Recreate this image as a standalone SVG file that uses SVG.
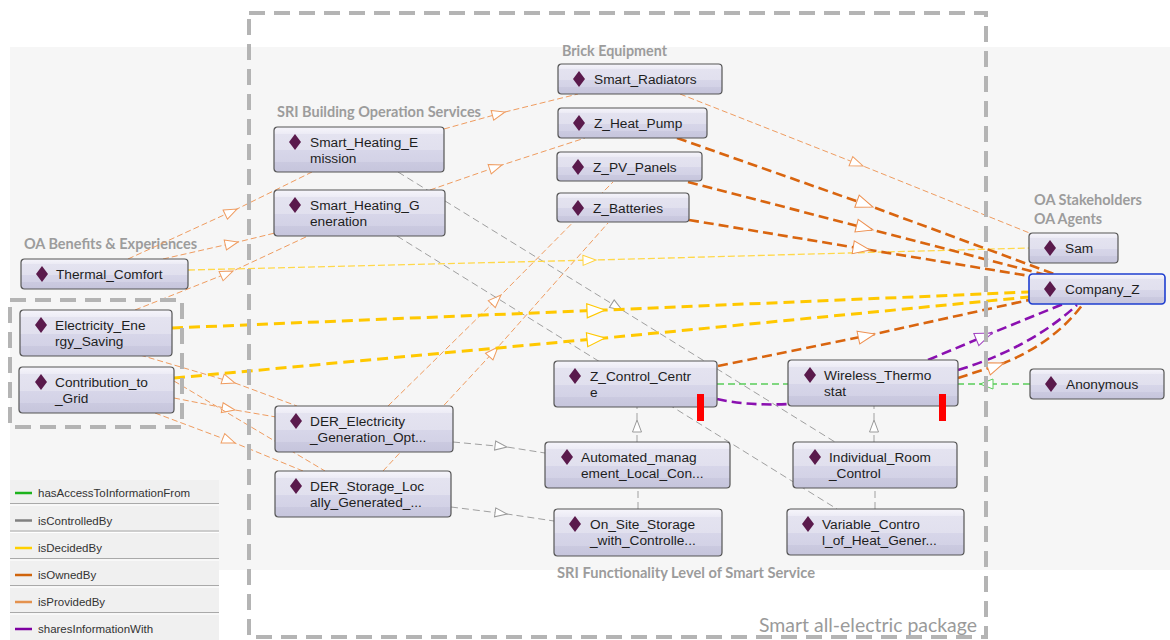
<svg xmlns="http://www.w3.org/2000/svg" width="1170" height="640" viewBox="0 0 1170 640">
  <defs>
    <linearGradient id="boxFill" x1="0" y1="0" x2="0" y2="1">
      <stop offset="0" stop-color="#f6f5fb"/>
      <stop offset="0.16" stop-color="#ecebf5"/>
      <stop offset="0.16" stop-color="#e4e3f0"/>
      <stop offset="0.52" stop-color="#e1e0ee"/>
      <stop offset="0.52" stop-color="#d7d6e9"/>
      <stop offset="0.78" stop-color="#d3d2e6"/>
      <stop offset="0.78" stop-color="#cbcae0"/>
      <stop offset="1" stop-color="#c6c5dc"/>
    </linearGradient>
    <!-- individual icon -->
    <path id="ind" d="M0,-8 L6,0 L0,8 L-6,0 Z"/>
    <!-- open triangular heads placed at the middle vertex of each connector -->
    <marker id="aProv" markerUnits="userSpaceOnUse" markerWidth="16" markerHeight="12" refX="13" refY="5" orient="auto" overflow="visible">
      <path d="M0,0 L13,5 L0,10 Z" fill="#fff" stroke="#ef9c60" stroke-width="1"/>
    </marker>
    <marker id="aOwn" markerUnits="userSpaceOnUse" markerWidth="20" markerHeight="14" refX="17" refY="6.5" orient="auto" overflow="visible">
      <path d="M0,0 L17,6.5 L0,13 Z" fill="#fff" stroke="#ee9050" stroke-width="1"/>
    </marker>
    <marker id="aDec" markerUnits="userSpaceOnUse" markerWidth="16" markerHeight="12" refX="13" refY="5" orient="auto" overflow="visible">
      <path d="M0,0 L13,5 L0,10 Z" fill="#fff" stroke="#ffd23c" stroke-width="1"/>
    </marker>
    <marker id="aDecT" markerUnits="userSpaceOnUse" markerWidth="20" markerHeight="16" refX="18" refY="7" orient="auto" overflow="visible">
      <path d="M0,0 L18,7 L0,14 Z" fill="#fff" stroke="#ffc800" stroke-width="1.2"/>
    </marker>
    <marker id="aCtl" markerUnits="userSpaceOnUse" markerWidth="16" markerHeight="12" refX="12" refY="4.5" orient="auto" overflow="visible">
      <path d="M0,0 L12,4.5 L0,9 Z" fill="#fff" stroke="#9a9a9a" stroke-width="1"/>
    </marker>
    <marker id="aShare" markerUnits="userSpaceOnUse" markerWidth="20" markerHeight="14" refX="17" refY="6.5" orient="auto" overflow="visible">
      <path d="M0,0 L17,6.5 L0,13 Z" fill="#fff" stroke="#a040c0" stroke-width="1"/>
    </marker>
    <marker id="aAcc" markerUnits="userSpaceOnUse" markerWidth="16" markerHeight="12" refX="13" refY="5" orient="auto" overflow="visible">
      <path d="M0,0 L13,5 L0,10 Z" fill="#fff" stroke="#5acd5a" stroke-width="1"/>
    </marker>
  </defs>
  <style>
    .box { fill: url(#boxFill); stroke: #555; stroke-width: 1.2; }
    .sel { stroke: #1f3fd0; stroke-width: 1.6; }
    .dia { fill: #5a1a4c; }
    .lbl { font-family: "Liberation Sans", Arial, sans-serif; font-size: 13.7px; fill: #1e1e1e; }
    .grp { font-family: Lato, "Open Sans", sans-serif; font-weight: bold; font-size: 15px; fill: #9c9c9c; }
    .pkg { font-family: Lato, "Open Sans", sans-serif; font-size: 20px; fill: #9a9a9a; }
    .leg { font-family: "Liberation Sans", Arial, sans-serif; font-size: 11.5px; fill: #333; }
    .c { fill: none; }
    .prov { stroke: #ef9c60; stroke-width: 1; stroke-dasharray: 6 3; }
    .own { stroke: #d9650f; stroke-width: 2.6; stroke-dasharray: 10 5; }
    .dec { stroke: #ffd84a; stroke-width: 1.3; stroke-dasharray: 7 3; }
    .decT { stroke: #ffc800; stroke-width: 3; stroke-dasharray: 11 6; }
    .ctl { stroke: #a0a0a0; stroke-width: 1; stroke-dasharray: 7 4; }
    .share { stroke: #8a10b0; stroke-width: 2.6; stroke-dasharray: 10 5; }
    .acc { stroke: #5acd5a; stroke-width: 1.3; stroke-dasharray: 7 4; }
    .red { fill: #ff0000; }
  </style>

  <!-- canvas -->
  <rect x="0" y="0" width="1170" height="640" fill="#ffffff"/>
  <rect x="10" y="47" width="1160" height="523" fill="#f6f6f6"/>

  <!-- legend -->
  <g id="legend">
    <rect x="10" y="480" width="209" height="160" fill="#f0f0f0"/>
    <g stroke="#a9a9a9" stroke-width="1">
      <line x1="10" y1="503.5" x2="219" y2="503.5"/>
      <line x1="10" y1="531" x2="219" y2="531"/>
      <line x1="10" y1="558.5" x2="219" y2="558.5"/>
      <line x1="10" y1="585.5" x2="219" y2="585.5"/>
      <line x1="10" y1="612.5" x2="219" y2="612.5"/>
    </g>
    <g stroke="#ffffff" stroke-width="1">
      <line x1="10" y1="505" x2="219" y2="505"/>
      <line x1="10" y1="532.5" x2="219" y2="532.5"/>
      <line x1="10" y1="560" x2="219" y2="560"/>
      <line x1="10" y1="587" x2="219" y2="587"/>
      <line x1="10" y1="614" x2="219" y2="614"/>
    </g>
    <g stroke-width="2.5">
      <line x1="15" y1="493" x2="32" y2="493" stroke="#1db31d"/>
      <line x1="15" y1="520.5" x2="32" y2="520.5" stroke="#808080"/>
      <line x1="15" y1="548" x2="32" y2="548" stroke="#ffd000"/>
      <line x1="15" y1="575" x2="32" y2="575" stroke="#d0640c"/>
      <line x1="15" y1="602" x2="32" y2="602" stroke="#e4924e"/>
      <line x1="15" y1="629" x2="32" y2="629" stroke="#7d00a0"/>
    </g>
    <text class="leg" x="38" y="497">hasAccessToInformationFrom</text>
    <text class="leg" x="38" y="524.5">isControlledBy</text>
    <text class="leg" x="38" y="552">isDecidedBy</text>
    <text class="leg" x="38" y="579">isOwnedBy</text>
    <text class="leg" x="38" y="606">isProvidedBy</text>
    <text class="leg" x="38" y="633">sharesInformationWith</text>
  </g>

  <!-- group captions -->
  <g id="captions">
    <text class="grp" x="562" y="56" textLength="105" lengthAdjust="spacingAndGlyphs">Brick Equipment</text>
    <text class="grp" x="277" y="117" textLength="204" lengthAdjust="spacingAndGlyphs">SRI Building Operation Services</text>
    <text class="grp" x="24" y="249" textLength="173" lengthAdjust="spacingAndGlyphs">OA Benefits &amp; Experiences</text>
    <text class="grp" x="1034" y="205" textLength="108" lengthAdjust="spacingAndGlyphs">OA Stakeholders</text>
    <text class="grp" x="1034" y="224" textLength="68" lengthAdjust="spacingAndGlyphs">OA Agents</text>
    <text class="grp" x="557" y="578" textLength="258" lengthAdjust="spacingAndGlyphs">SRI Functionality Level of Smart Service</text>
  </g>

  <!-- connectors -->
  <g id="connectors" class="c">
    <!-- isProvidedBy -->
    <polyline class="prov" marker-mid="url(#aProv)" points="444,129 505,112 578,94"/>
    <polyline class="prov" marker-mid="url(#aProv)" points="430,190 502,165 585,138"/>
    <polyline class="prov" marker-mid="url(#aProv)" points="680,94 863,166 1032,234"/>
    <polyline class="prov" marker-mid="url(#aProv)" points="128,259 237,209 312,172"/>
    <polyline class="prov" marker-mid="url(#aProv)" points="163,259 238,242 275,233"/>
    <polyline class="prov" marker-mid="url(#aProv)" points="135,310 233,271 308,236"/>
    <polyline class="prov" marker-mid="url(#aProv)" points="388,406 501,295 613,182"/>
    <polyline class="prov" marker-mid="url(#aProv)" points="383,471 498,347 608,223"/>
    <polyline class="prov" marker-mid="url(#aProv)" points="140,355 235,383 297,406"/>
    <polyline class="prov" marker-mid="url(#aProv)" points="174,398 235,410 276,417"/>
    <polyline class="prov" points="174,381 325,471"/>
    <polyline class="prov" marker-mid="url(#aProv)" points="155,413 235,443 303,471"/>

    <!-- isControlledBy -->
    <polyline class="ctl" marker-mid="url(#aCtl)" points="398,172 622,310 835,442"/>
    <polyline class="ctl" points="397,236 837,509"/>
    <polyline class="ctl" marker-mid="url(#aCtl)" points="637,442 637,420 637,407"/>
    <polyline class="ctl" points="638,509 638,488"/>
    <polyline class="ctl" marker-mid="url(#aCtl)" points="874,442 874,420 874,406"/>
    <polyline class="ctl" points="875,509 875,488"/>
    <polyline class="ctl" marker-mid="url(#aCtl)" points="453,442 507,447 545,453"/>
    <polyline class="ctl" marker-mid="url(#aCtl)" points="451,507 507,514 554,521"/>

    <!-- isDecidedBy -->
    <polyline class="dec" marker-mid="url(#aDec)" points="188,270 596,260 1029,248"/>
    <polyline class="decT" marker-mid="url(#aDecT)" points="172,328 605,310 1029,292"/>
    <polyline class="decT" marker-mid="url(#aDecT)" points="174,378 605,338 1029,297"/>

    <!-- isOwnedBy -->
    <polyline class="own" marker-mid="url(#aOwn)" points="677,138 873,207 1057,275"/>
    <polyline class="own" marker-mid="url(#aOwn)" points="688,182 873,230 1050,276"/>
    <polyline class="own" marker-mid="url(#aOwn)" points="689,220 870,250 1042,278"/>
    <polyline class="own" marker-mid="url(#aOwn)" points="718,366 875,334 1029,300"/>
    <path class="own" marker-mid="url(#aOwn)" d="M958,378 L1004,363 Q1055,342 1083,304"/>

    <!-- sharesInformationWith -->
    <polyline class="share" marker-mid="url(#aShare)" points="928,360 992,333 1063,304"/>
    <path class="share" d="M958,370 Q1030,348 1077,305"/>
    <path class="share" d="M717,399 Q748,406 789,404"/>

    <!-- hasAccessToInformationFrom -->
    <polyline class="acc" points="717,384 789,384"/>
    <polyline class="acc" marker-mid="url(#aAcc)" points="1030,384 980,384 958,384"/>
  </g>

  <!-- package outlines -->
  <g id="packages" fill="none" stroke="#b4b4b4" stroke-width="4" stroke-dasharray="16 9">
    <rect x="249" y="13" width="737" height="624"/>
    <rect x="10" y="300" width="172" height="127"/>
  </g>
  <text class="pkg" x="759" y="632" textLength="218" lengthAdjust="spacingAndGlyphs">Smart all-electric package</text>

  <!-- nodes -->
  <g id="n-smart-radiators" transform="translate(558,64)">
    <rect class="box" width="164" height="30" rx="3.5"/>
    <use href="#ind" class="dia" x="21" y="15"/>
    <text class="lbl" x="36" y="20">Smart_Radiators</text>
  </g>
  <g id="n-z-heat-pump" transform="translate(558,108)">
    <rect class="box" width="149" height="30" rx="3.5"/>
    <use href="#ind" class="dia" x="21" y="15"/>
    <text class="lbl" x="36" y="20">Z_Heat_Pump</text>
  </g>
  <g id="n-z-pv-panels" transform="translate(557,152)">
    <rect class="box" width="145" height="29" rx="3.5"/>
    <use href="#ind" class="dia" x="21" y="15"/>
    <text class="lbl" x="36" y="20">Z_PV_Panels</text>
  </g>
  <g id="n-z-batteries" transform="translate(557,193)">
    <rect class="box" width="132" height="29" rx="3.5"/>
    <use href="#ind" class="dia" x="21" y="15"/>
    <text class="lbl" x="36" y="20">Z_Batteries</text>
  </g>
  <g id="n-smart-heating-emission" transform="translate(274,127)">
    <rect class="box" width="170" height="45" rx="3.5"/>
    <use href="#ind" class="dia" x="21" y="15"/>
    <text class="lbl" x="36" y="20">Smart_Heating_E</text>
    <text class="lbl" x="36" y="36">mission</text>
  </g>
  <g id="n-smart-heating-generation" transform="translate(274,190)">
    <rect class="box" width="171" height="46" rx="3.5"/>
    <use href="#ind" class="dia" x="21" y="15"/>
    <text class="lbl" x="36" y="20">Smart_Heating_G</text>
    <text class="lbl" x="36" y="36">eneration</text>
  </g>
  <g id="n-thermal-comfort" transform="translate(21,259)">
    <rect class="box" width="167" height="30" rx="3.5"/>
    <use href="#ind" class="dia" x="21" y="15"/>
    <text class="lbl" x="35" y="20">Thermal_Comfort</text>
  </g>
  <g id="n-electricity-energy-saving" transform="translate(20,310)">
    <rect class="box" width="152" height="46" rx="3.5"/>
    <use href="#ind" class="dia" x="21" y="15"/>
    <text class="lbl" x="35" y="20">Electricity_Ene</text>
    <text class="lbl" x="35" y="36">rgy_Saving</text>
  </g>
  <g id="n-contribution-to-grid" transform="translate(19,367)">
    <rect class="box" width="155" height="46" rx="3.5"/>
    <use href="#ind" class="dia" x="22" y="15"/>
    <text class="lbl" x="36" y="20">Contribution_to</text>
    <text class="lbl" x="36" y="36">_Grid</text>
  </g>
  <g id="n-der-electricity" transform="translate(275,406)">
    <rect class="box" width="178" height="46" rx="3.5"/>
    <use href="#ind" class="dia" x="21" y="15"/>
    <text class="lbl" x="35" y="20">DER_Electricity</text>
    <text class="lbl" x="35" y="36">_Generation_Opt...</text>
  </g>
  <g id="n-der-storage" transform="translate(275,471)">
    <rect class="box" width="176" height="46" rx="3.5"/>
    <use href="#ind" class="dia" x="21" y="15"/>
    <text class="lbl" x="35" y="20">DER_Storage_Loc</text>
    <text class="lbl" x="35" y="36">ally_Generated_...</text>
  </g>
  <g id="n-z-control-centre" transform="translate(554,361)">
    <rect class="box" width="163" height="46" rx="3.5"/>
    <use href="#ind" class="dia" x="21" y="15"/>
    <text class="lbl" x="36" y="20">Z_Control_Centr</text>
    <text class="lbl" x="36" y="36">e</text>
  </g>
  <g id="n-wireless-thermostat" transform="translate(788,360)">
    <rect class="box" width="170" height="46" rx="3.5"/>
    <use href="#ind" class="dia" x="22" y="15"/>
    <text class="lbl" x="36" y="20">Wireless_Thermo</text>
    <text class="lbl" x="36" y="36">stat</text>
  </g>
  <g id="n-automated-management" transform="translate(545,442)">
    <rect class="box" width="185" height="46" rx="3.5"/>
    <use href="#ind" class="dia" x="22" y="15"/>
    <text class="lbl" x="36" y="20">Automated_manag</text>
    <text class="lbl" x="36" y="36">ement_Local_Con...</text>
  </g>
  <g id="n-individual-room-control" transform="translate(793,442)">
    <rect class="box" width="164" height="46" rx="3.5"/>
    <use href="#ind" class="dia" x="22" y="15"/>
    <text class="lbl" x="36" y="20">Individual_Room</text>
    <text class="lbl" x="36" y="36">_Control</text>
  </g>
  <g id="n-on-site-storage" transform="translate(554,509)">
    <rect class="box" width="168" height="47" rx="3.5"/>
    <use href="#ind" class="dia" x="21" y="15"/>
    <text class="lbl" x="36" y="20">On_Site_Storage</text>
    <text class="lbl" x="36" y="36">_with_Controlle...</text>
  </g>
  <g id="n-variable-control" transform="translate(787,509)">
    <rect class="box" width="177" height="46" rx="3.5"/>
    <use href="#ind" class="dia" x="21" y="15"/>
    <text class="lbl" x="35" y="20">Variable_Contro</text>
    <text class="lbl" x="35" y="36">l_of_Heat_Gener...</text>
  </g>
  <g id="n-sam" transform="translate(1029,233)">
    <rect class="box" width="89" height="30" rx="3.5"/>
    <use href="#ind" class="dia" x="21" y="15"/>
    <text class="lbl" x="36" y="20">Sam</text>
  </g>
  <g id="n-company-z" transform="translate(1029,274)">
    <rect class="box sel" width="136" height="30" rx="3.5"/>
    <use href="#ind" class="dia" x="21" y="15"/>
    <text class="lbl" x="36" y="20">Company_Z</text>
  </g>
  <g id="n-anonymous" transform="translate(1030,369)">
    <rect class="box" width="134" height="30" rx="3.5"/>
    <use href="#ind" class="dia" x="21" y="15"/>
    <text class="lbl" x="36" y="20">Anonymous</text>
  </g>

  <!-- status flags -->
  <rect class="red" x="697" y="394" width="7" height="27"/>
  <rect class="red" x="939" y="394" width="7" height="27"/>
</svg>
